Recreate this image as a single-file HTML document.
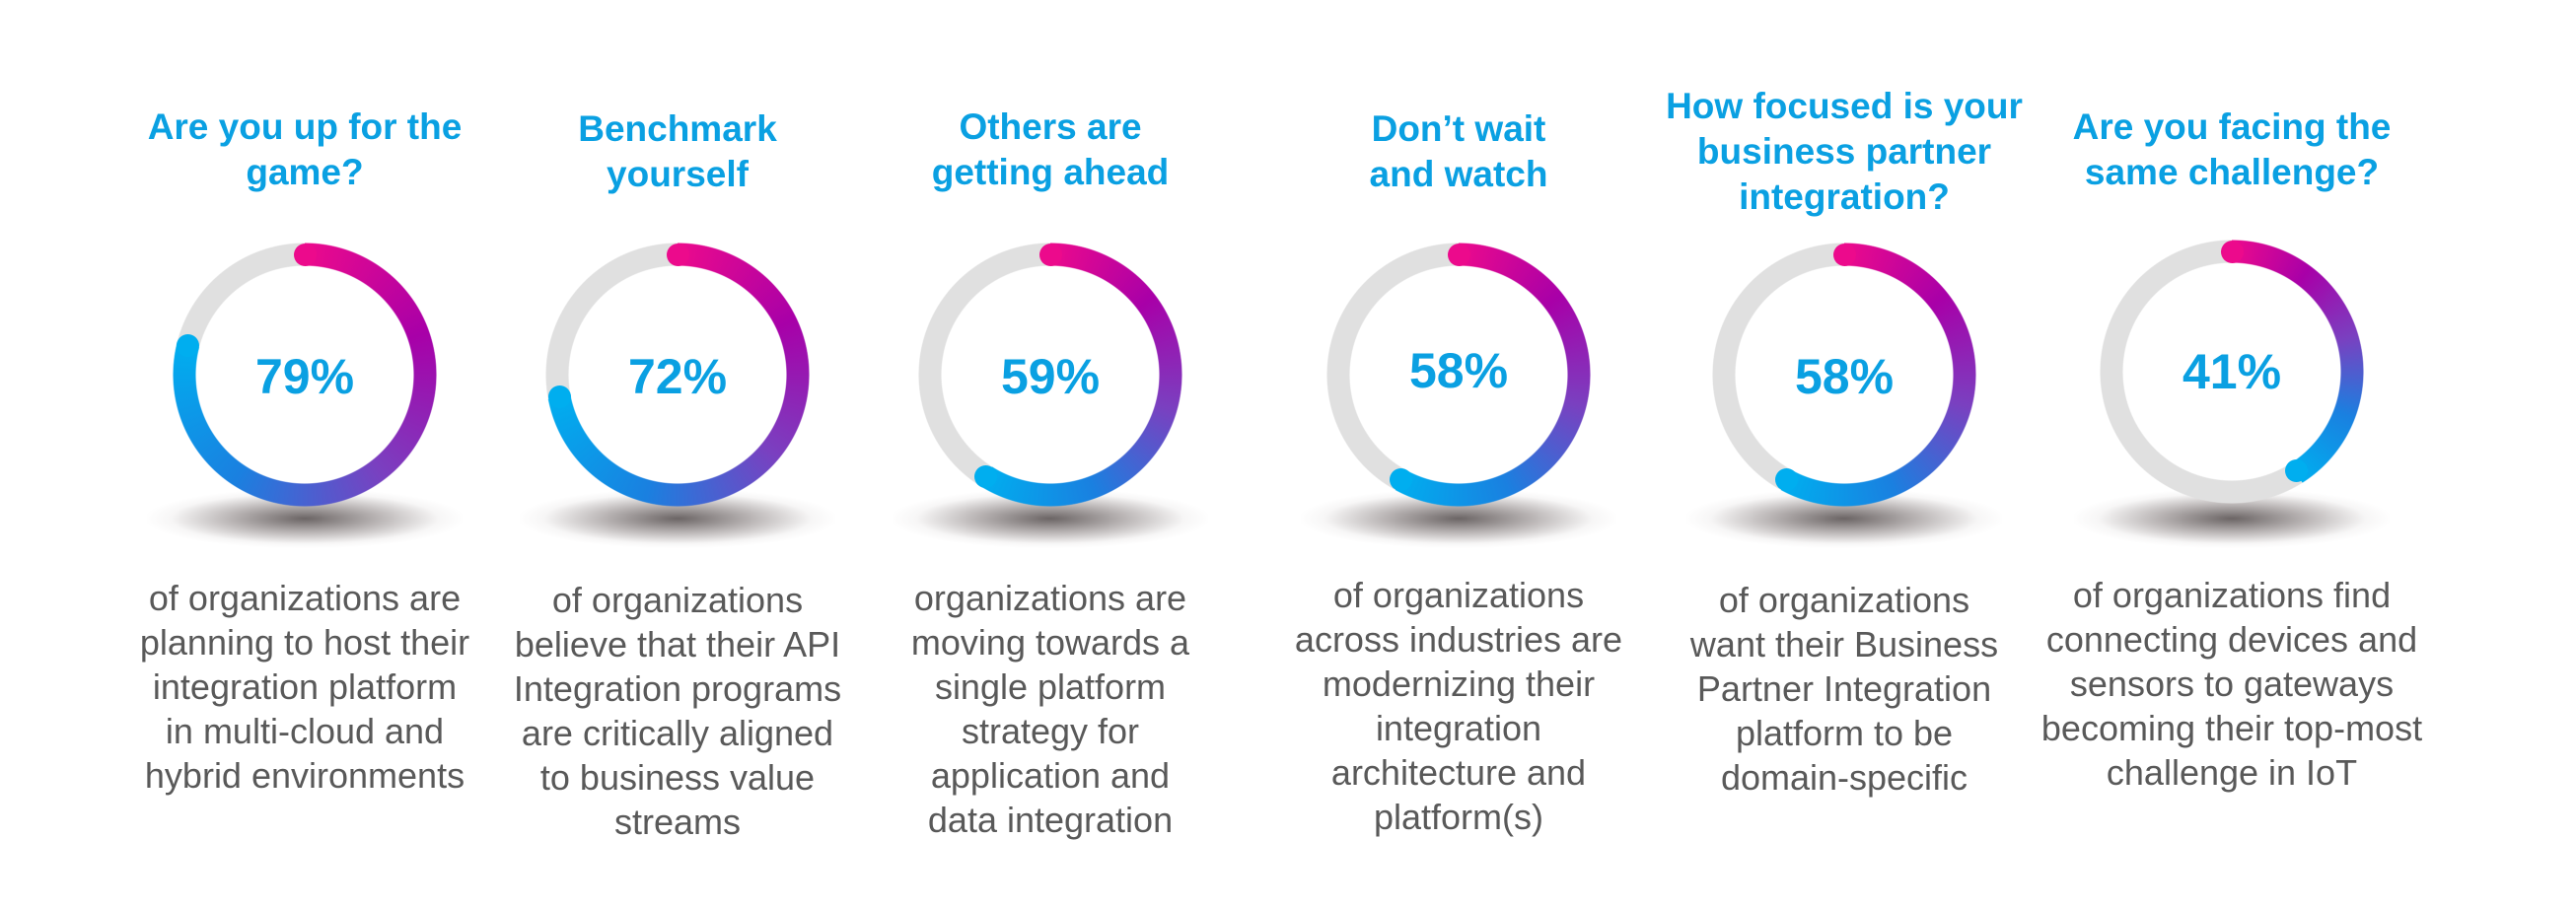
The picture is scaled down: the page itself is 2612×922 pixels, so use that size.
<!DOCTYPE html>
<html><head><meta charset="utf-8"><style>
body{margin:0;width:2612px;height:922px;background:#fff;position:relative;overflow:hidden;font-family:"Liberation Sans",Arial,sans-serif}
.t{position:absolute;width:500px;text-align:center;color:#0aa0e2;font-weight:bold;font-size:37px;line-height:46px;white-space:nowrap}
.b{position:absolute;width:500px;text-align:center;color:#595959;font-size:36px;line-height:45px;white-space:nowrap;top:584px}
.sh{position:absolute;width:320px;height:60px;top:496px;background:radial-gradient(ellipse at center,rgba(70,62,62,.8) 0%,rgba(110,100,100,.45) 35%,rgba(200,195,195,.15) 60%,rgba(255,255,255,0) 72%)}
.r{position:absolute;width:268px;height:268px;border-radius:50%;-webkit-mask:radial-gradient(circle,transparent 110px,#000 111px,#000 133px,transparent 134px);mask:radial-gradient(circle,transparent 110px,#000 111px,#000 133px,transparent 134px)}
.c{position:absolute;width:23px;height:23px;border-radius:50%}
.p{position:absolute;width:300px;text-align:center;color:#0aa0e2;font-weight:bold;font-size:50px;line-height:60px}
</style></head><body>

<!-- col1 cx=309 -->
<div class="t" style="left:59px;top:106px">Are you up for the<br>game?</div>
<div class="sh" style="left:149px"></div>
<div class="r" style="left:175px;top:246px;background:conic-gradient(#ec0a8c 0%,#a800a8 19.75%,#7a40c0 39.5%,#1a80e0 59.25%,#00aeef 79%,#e0e0e0 79%,#e0e0e0 100%)"></div>
<div class="c" style="left:297.5px;top:246.5px;background:#ec0a8c"></div>
<div class="c" style="left:179.3px;top:339.2px;background:#00aeef"></div>
<div class="p" style="left:159px;top:352px">79%</div>
<div class="b" style="left:59px">of organizations are<br>planning to host their<br>integration platform<br>in multi-cloud and<br>hybrid environments</div>

<!-- col2 cx=687 -->
<div class="t" style="left:437px;top:108px">Benchmark<br>yourself</div>
<div class="sh" style="left:527px"></div>
<div class="r" style="left:553px;top:246px;background:conic-gradient(#ec0a8c 0%,#a800a8 18%,#7a40c0 36%,#1a80e0 54%,#00aeef 72%,#e0e0e0 72%,#e0e0e0 100%)"></div>
<div class="c" style="left:675.5px;top:246.5px;background:#ec0a8c"></div>
<div class="c" style="left:555.7px;top:391.4px;background:#00aeef"></div>
<div class="p" style="left:537px;top:352px">72%</div>
<div class="b" style="left:437px;top:586px">of organizations<br>believe that their API<br>Integration programs<br>are critically aligned<br>to business value<br>streams</div>

<!-- col3 cx=1065 -->
<div class="t" style="left:815px;top:106px">Others are<br>getting ahead</div>
<div class="sh" style="left:905px"></div>
<div class="r" style="left:931px;top:246px;background:conic-gradient(#ec0a8c 0%,#a800a8 14.75%,#7a40c0 29.5%,#1a80e0 44.25%,#00aeef 59%,#e0e0e0 59%,#e0e0e0 100%)"></div>
<div class="c" style="left:1053.5px;top:246.5px;background:#ec0a8c"></div>
<div class="c" style="left:988.1px;top:471.5px;background:#00aeef"></div>
<div class="p" style="left:915px;top:352px">59%</div>
<div class="b" style="left:815px">organizations are<br>moving towards a<br>single platform<br>strategy for<br>application and<br>data integration</div>

<!-- col4 cx=1479 -->
<div class="t" style="left:1229px;top:108px">Don’t wait<br>and watch</div>
<div class="sh" style="left:1319px"></div>
<div class="r" style="left:1345px;top:246px;background:conic-gradient(#ec0a8c 0%,#a800a8 14.5%,#7a40c0 29%,#1a80e0 43.5%,#00aeef 58%,#e0e0e0 58%,#e0e0e0 100%)"></div>
<div class="c" style="left:1467.5px;top:246.5px;background:#ec0a8c"></div>
<div class="c" style="left:1408.7px;top:475.4px;background:#00aeef"></div>
<div class="p" style="left:1329px;top:346px">58%</div>
<div class="b" style="left:1229px;top:581px">of organizations<br>across industries are<br>modernizing their<br>integration<br>architecture and<br>platform(s)</div>

<!-- col5 cx=1870 -->
<div class="t" style="left:1620px;top:85px;line-height:46px">How focused is your<br>business partner<br>integration?</div>
<div class="sh" style="left:1710px"></div>
<div class="r" style="left:1736px;top:246px;background:conic-gradient(#ec0a8c 0%,#a800a8 14.5%,#7a40c0 29%,#1a80e0 43.5%,#00aeef 58%,#e0e0e0 58%,#e0e0e0 100%)"></div>
<div class="c" style="left:1858.5px;top:246.5px;background:#ec0a8c"></div>
<div class="c" style="left:1799.7px;top:475.4px;background:#00aeef"></div>
<div class="p" style="left:1720px;top:352px">58%</div>
<div class="b" style="left:1620px;top:586px">of organizations<br>want their Business<br>Partner Integration<br>platform to be<br>domain-specific</div>

<!-- col6 cx=2263 -->
<div class="t" style="left:2013px;top:106px">Are you facing the<br>same challenge?</div>
<div class="sh" style="left:2103px"></div>
<div class="r" style="left:2129px;top:243px;background:conic-gradient(#ec0a8c 0%,#a800a8 10.25%,#7a40c0 20.5%,#1a80e0 30.75%,#00aeef 41%,#e0e0e0 41%,#e0e0e0 100%)"></div>
<div class="c" style="left:2251.5px;top:243.5px;background:#ec0a8c"></div>
<div class="c" style="left:2316.9px;top:465.5px;background:#00aeef"></div>
<div class="p" style="left:2113px;top:347px">41%</div>
<div class="b" style="left:2013px;top:581px">of organizations find<br>connecting devices and<br>sensors to gateways<br>becoming their top-most<br>challenge in IoT</div>

</body></html>
